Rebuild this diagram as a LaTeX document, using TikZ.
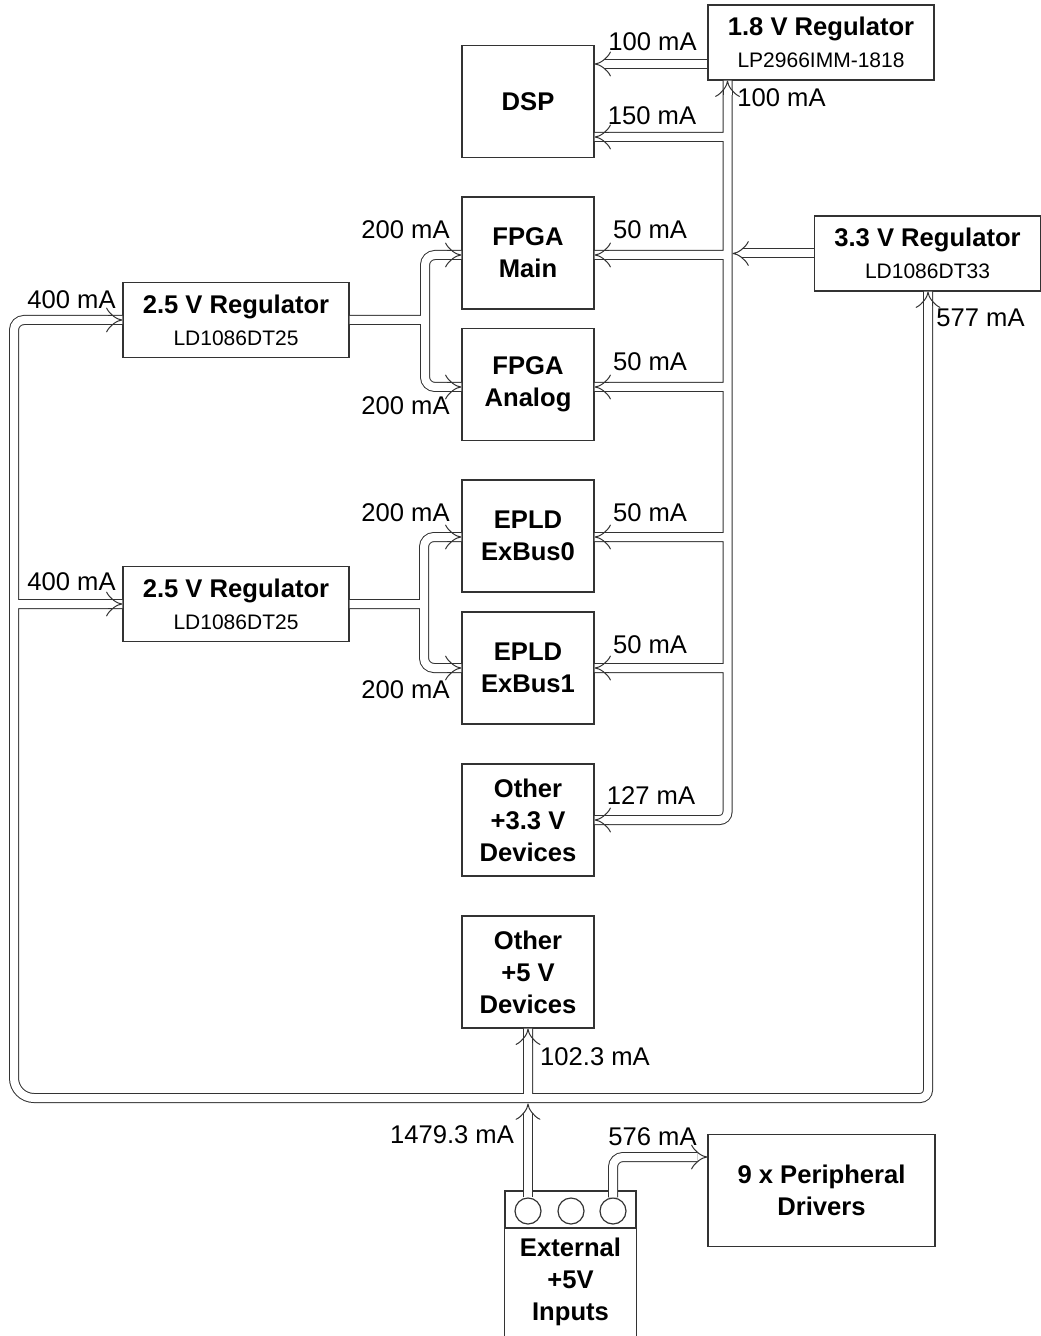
\documentclass[tikz,border=0pt]{standalone}
\usepackage{fontspec}
\setmainfont{Liberation Sans}
\usetikzlibrary{arrows.meta,calc,positioning}
\tikzset{every node/.append style={font=\fontsize{12.8}{16}\selectfont}}
\tikzset{
  box/.style={draw=black!80, line width=0.6pt, align=center, inner sep=0pt,
    font=\fontsize{12.8}{16}\selectfont\bfseries},
  regbox/.style={box, minimum width=113pt, minimum height=37.5pt},
  devbox/.style={box, minimum width=66pt, minimum height=56pt},
  pipe/.style={draw=black!80, line width=0.5pt, double=white, double distance=4pt,
    rounded corners=4pt},
  feed/.style={pipe, -{Implies[scale=1.4]}},
  amp/.style={inner sep=0pt},
}
\newcommand\partno[1]{{\fontsize{10.5}{12}\selectfont\mdseries #1}}

\begin{document}
\begin{tikzpicture}[x=0.5pt, y=-0.5pt]
    \useasboundingbox (0,0) rectangle (1040,1336);
    % boxes
    \node[regbox] (reg18) at (821,42.5) {1.8 V Regulator\\\partno{LP2966IMM-1818}};
    \node[regbox] (reg33) at (927.5,253.5) {3.3 V Regulator\\\partno{LD1086DT33}};
    \node[regbox] (reg25a) at (236,320) {2.5 V Regulator\\\partno{LD1086DT25}};
    \node[regbox] (reg25b) at (236,604) {2.5 V Regulator\\\partno{LD1086DT25}};
    \node[devbox] (dsp) at (528,101.5) {DSP};
    \node[devbox] (fmain) at (528,253) {FPGA\\Main};
    \node[devbox] (fana) at (528,384.5) {FPGA\\Analog};
    \node[devbox] (ebus0) at (528,536) {EPLD\\ExBus0};
    \node[devbox] (ebus1) at (528,668) {EPLD\\ExBus1};
    \node[devbox] (oth33) at (528,820) {Other\\+3.3 V\\Devices};
    \node[devbox] (oth5) at (528,972) {Other\\+5 V\\Devices};
    \node[devbox, minimum width=113.5pt] (drv) at (821.5,1190.5) {9 x Peripheral\\Drivers};
    % input connector
    \node[box, minimum width=65.5pt, minimum height=18.5pt] (jack) at (570.5,1209.5) {};
    \foreach \i/\x in {1/528, 2/571, 3/613}
        \node[draw=black!80, line width=0.6pt, circle, minimum size=13pt, inner sep=0pt] (c\i) at (\x,1211) {};
    \draw[draw=black!80, line width=0.6pt] (jack.south west) -- ++(0,140) (jack.south east) -- ++(0,140);
    \node[box, draw=none] (ext) at (570.5,1282) {External\\+5V\\Inputs};

    % levels of the taps
    \foreach \n/\y in {dsp/137, fmain/255, fana/387, ebus0/537, ebus1/668}
        \coordinate (lv-\n) at (0,\y);
    \coordinate (rail) at (727.5,0);
    \coordinate (loopL) at (14,1098);
    \coordinate (loopR) at (928,1098);
    \coordinate (splitA) at (425,320);
    \coordinate (splitB) at (424,604);

    % 3.3 V rail
    \draw[pipe] (reg18.south -| rail) |- (oth33.east)
        \foreach \n in {dsp, fmain, fana, ebus0, ebus1} {(rail |- lv-\n) -- (\n.east |- lv-\n)};
    \draw[feed] (reg33.west) -- (732.5,253.5);
    \draw[feed] (reg18.west |- 0,64) -- (dsp.east |- 0,64);
    % 2.5 V rails
    \draw[pipe, rounded corners=5pt] (reg25a.east) -- (splitA) (fmain.west |- lv-fmain) -| (splitA) |- (fana.west |- lv-fana);
    \draw[pipe, rounded corners=5pt] (reg25b.east) -- (splitB) (ebus0.west |- lv-ebus0) -| (splitB) |- (ebus1.west |- lv-ebus1);
    % 5 V rail
    \draw[pipe] (reg33.south -| loopR) -- (loopR) [rounded corners=10pt] -- (loopL) [rounded corners=5pt] |- (reg25a.west)
        (loopL |- reg25b.west) -- (reg25b.west)
        (oth5.south |- loopL) -- (oth5.south);
    \draw[feed] (c1.north) -- (528,1103.5);
    \draw[feed, rounded corners=5pt] (c3.north) |- (drv.west |- 0,1157);

    % arrow heads on the shared rails
    \foreach \n in {dsp, fmain, fana, ebus0, ebus1}
        \draw[feed] ($(\n.east |- lv-\n)+(14,0)$) -- (\n.east |- lv-\n);
    \foreach \n in {fmain, fana, ebus0, ebus1}
        \draw[feed] ($(\n.west |- lv-\n)+(-14,0)$) -- (\n.west |- lv-\n);
    \draw[feed] ($(oth33.east)+(14,0)$) -- (oth33.east);
    \draw[feed] ($(reg18.south -| rail)+(0,14)$) -- (reg18.south -| rail);
    \draw[feed] ($(reg33.south -| loopR)+(0,14)$) -- (reg33.south -| loopR);
    \draw[feed] ($(oth5.south)+(0,14)$) -- (oth5.south);
    \draw[feed] ($(reg25a.west)+(-14,0)$) -- (reg25a.west);
    \draw[feed] ($(reg25b.west)+(-14,0)$) -- (reg25b.west);

    % currents
    \node[amp] (i18a) at (652.5,42) {100 mA};
    \node[amp] (i18b) at (781.5,98) {100 mA};
    \node[amp] (idsp) at (652,116) {150 mA};
    \node[amp] (ifm) at (650,230) {50 mA};
    \node[amp] (ifa) at (650,362) {50 mA};
    \node[amp] (ie0) at (650,513) {50 mA};
    \node[amp] (ie1) at (650,645) {50 mA};
    \node[amp] (io33) at (651,796) {127 mA};
    \node[amp] (ifm25) at (405.5,230) {200 mA};
    \node[amp] (ifa25) at (405.5,406) {200 mA};
    \node[amp] (ie025) at (405.5,513) {200 mA};
    \node[amp] (ie125) at (405.5,690) {200 mA};
    \node[amp] (ir25a) at (71.5,300) {400 mA};
    \node[amp] (ir25b) at (71.5,582) {400 mA};
    \node[amp] (ir33) at (980.5,318) {577 mA};
    \node[amp] (io5) at (595,1057) {102.3 mA};
    \node[amp] (iin) at (452,1135) {1479.3 mA};
    \node[amp] (idrv) at (652.5,1137) {576 mA};
\end{tikzpicture}
\end{document}
